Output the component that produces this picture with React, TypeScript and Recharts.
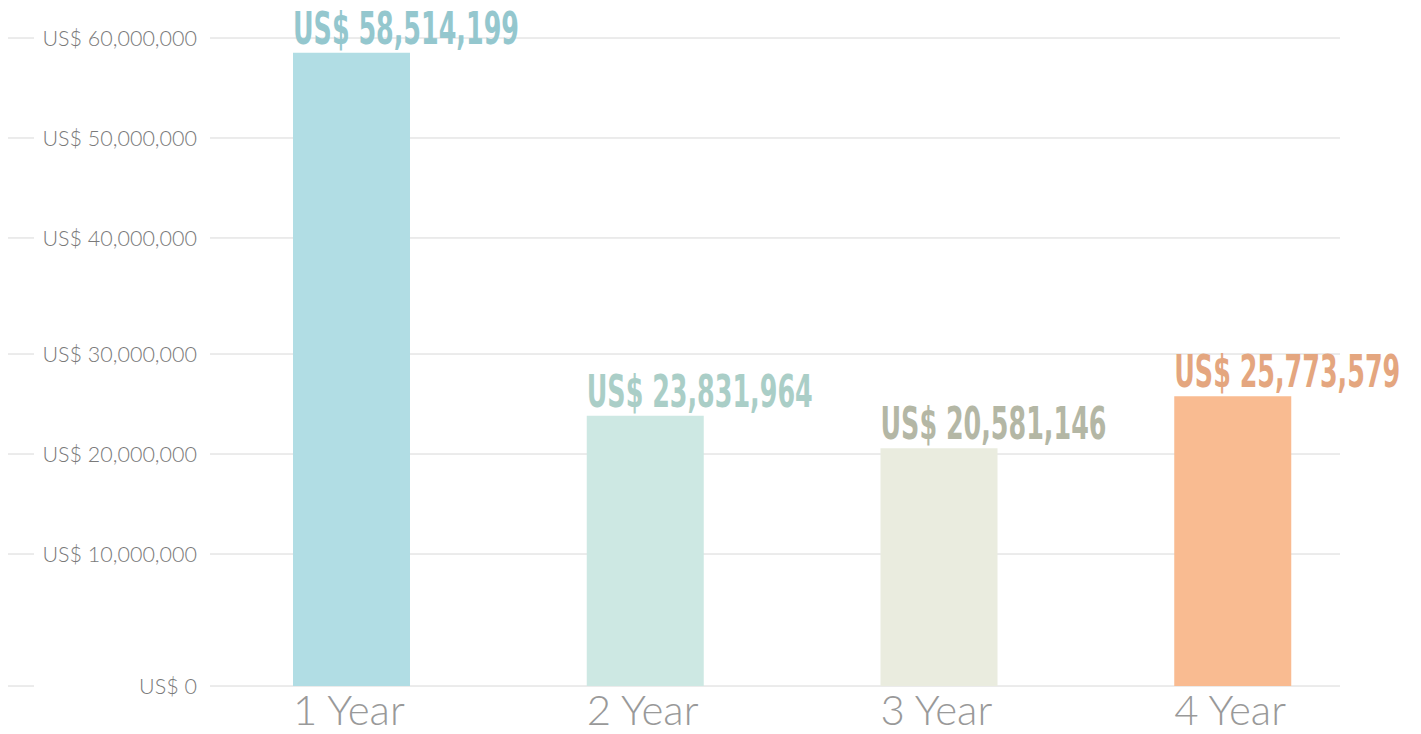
import React from 'react';
import { BarChart, Bar, XAxis, YAxis, CartesianGrid, Cell, LabelList } from 'recharts';

const categories = ['1 Year', '2 Year', '3 Year', '4 Year'];
const values = [58514199, 23831964, 20581146, 25773579];
const yTickValues = [0, 10000000, 20000000, 30000000, 40000000, 50000000, 60000000];
const barColors = ['#b1dde4', '#cde8e3', '#eaecdf', '#f9bb91'];
const labelColors = ['#94c7ce', '#aacec7', '#b4b7a5', '#e4a67f'];

// The reference axis is not evenly spaced: share of the plot height at which each tick value sits.
const yTickShares = [0, 0.2037, 0.358, 0.5123, 0.6914, 0.8457, 1];

const data = categories.map((name, i) => ({ name, value: values[i] }));

function makeSegmentedScale(knots: number[], shares: number[]): any {
  let dom = [knots[0], knots[knots.length - 1]];
  let rng = [0, 1];
  const s: any = (input: any) => {
    const v = Number(input);
    if (isNaN(v)) return NaN;
    let i = 0;
    while (i < knots.length - 2 && v > knots[i + 1]) i++;
    const t = (v - knots[i]) / (knots[i + 1] - knots[i]);
    const f = shares[i] + t * (shares[i + 1] - shares[i]);
    return rng[0] + f * (rng[1] - rng[0]);
  };
  s.domain = (d?: number[]) => {
    if (d === undefined) return dom.slice();
    dom = d.slice();
    return s;
  };
  s.range = (r?: number[]) => {
    if (r === undefined) return rng.slice();
    rng = r.slice();
    return s;
  };
  s.copy = () => makeSegmentedScale(knots, shares).domain(dom).range(rng);
  s.ticks = () => knots.slice();
  s.tickFormat = () => (v: number) => String(v);
  return s;
}

const yScale = makeSegmentedScale(yTickValues, yTickShares);

const fmt = (v: number) => `US$ ${Number(v).toLocaleString('en-US')}`;

const LIGHT_FONT = "'Lato Light', Lato, 'Open Sans', sans-serif";

const YTick = (props: any) => {
  const { x, y, payload } = props;
  return (
    <g>
      <line x1={x - 202} x2={x - 176} y1={y} y2={y} stroke="#d8d8d8" strokeWidth={1} />
      <text
        x={x - 13}
        y={y}
        dy="0.36em"
        textAnchor="end"
        fill="#7a7a7a"
        fontFamily={LIGHT_FONT}
        fontWeight={300}
        fontSize={21.5}
      >
        {fmt(payload.value)}
      </text>
    </g>
  );
};

const XTick = (props: any) => {
  const { x, y, payload } = props;
  return (
    <text
      x={x - 3}
      y={y + 39}
      textAnchor="middle"
      fill="#999999"
      fontFamily={LIGHT_FONT}
      fontWeight={300}
      fontSize={42}
    >
      {payload.value}
    </text>
  );
};

const ValueLabel = (props: any) => {
  const vb = props.viewBox || props;
  const x = vb.x ?? props.x;
  const y = vb.y ?? props.y;
  let idx = props.index;
  if (idx === undefined || idx === null) idx = values.indexOf(Number(props.value));
  return (
    <text
      transform={`translate(${x},${y - 9}) scale(1,1.6)`}
      x={0}
      y={0}
      fill={labelColors[idx] || labelColors[0]}
      fontFamily="'Liberation Sans Narrow', 'DejaVu Sans Condensed', 'Roboto', sans-serif"
      fontWeight="bold"
      fontSize={28}
      textLength={226}
      lengthAdjust="spacingAndGlyphs"
    >
      {fmt(props.value)}
    </text>
  );
};

export default function App() {
  return (
    <div style={{ width: 1421, height: 734, margin: '-8px 0 0 -8px' }}>
      <BarChart
        width={1421}
        height={734}
        data={data}
        margin={{ top: 38, right: 81, bottom: 0, left: 8 }}
      >
        <CartesianGrid vertical={false} stroke="#d8d8d8" />
        <XAxis
          dataKey="name"
          axisLine={false}
          tickLine={false}
          tickSize={0}
          tickMargin={0}
          height={48}
          padding={{ left: -5, right: -40 }}
          tick={<XTick />}
          interval={0}
        />
        <YAxis
          type="number"
          domain={[0, 60000000]}
          ticks={yTickValues}
          scale={yScale}
          width={202}
          axisLine={false}
          tickLine={false}
          tickSize={0}
          tickMargin={0}
          tick={<YTick />}
          interval={0}
        />
        <Bar dataKey="value" barSize={117} isAnimationActive={false}>
          {data.map((d, i) => (
            <Cell key={d.name} fill={barColors[i]} />
          ))}
          <LabelList dataKey="value" content={<ValueLabel />} />
        </Bar>
      </BarChart>
    </div>
  );
}
